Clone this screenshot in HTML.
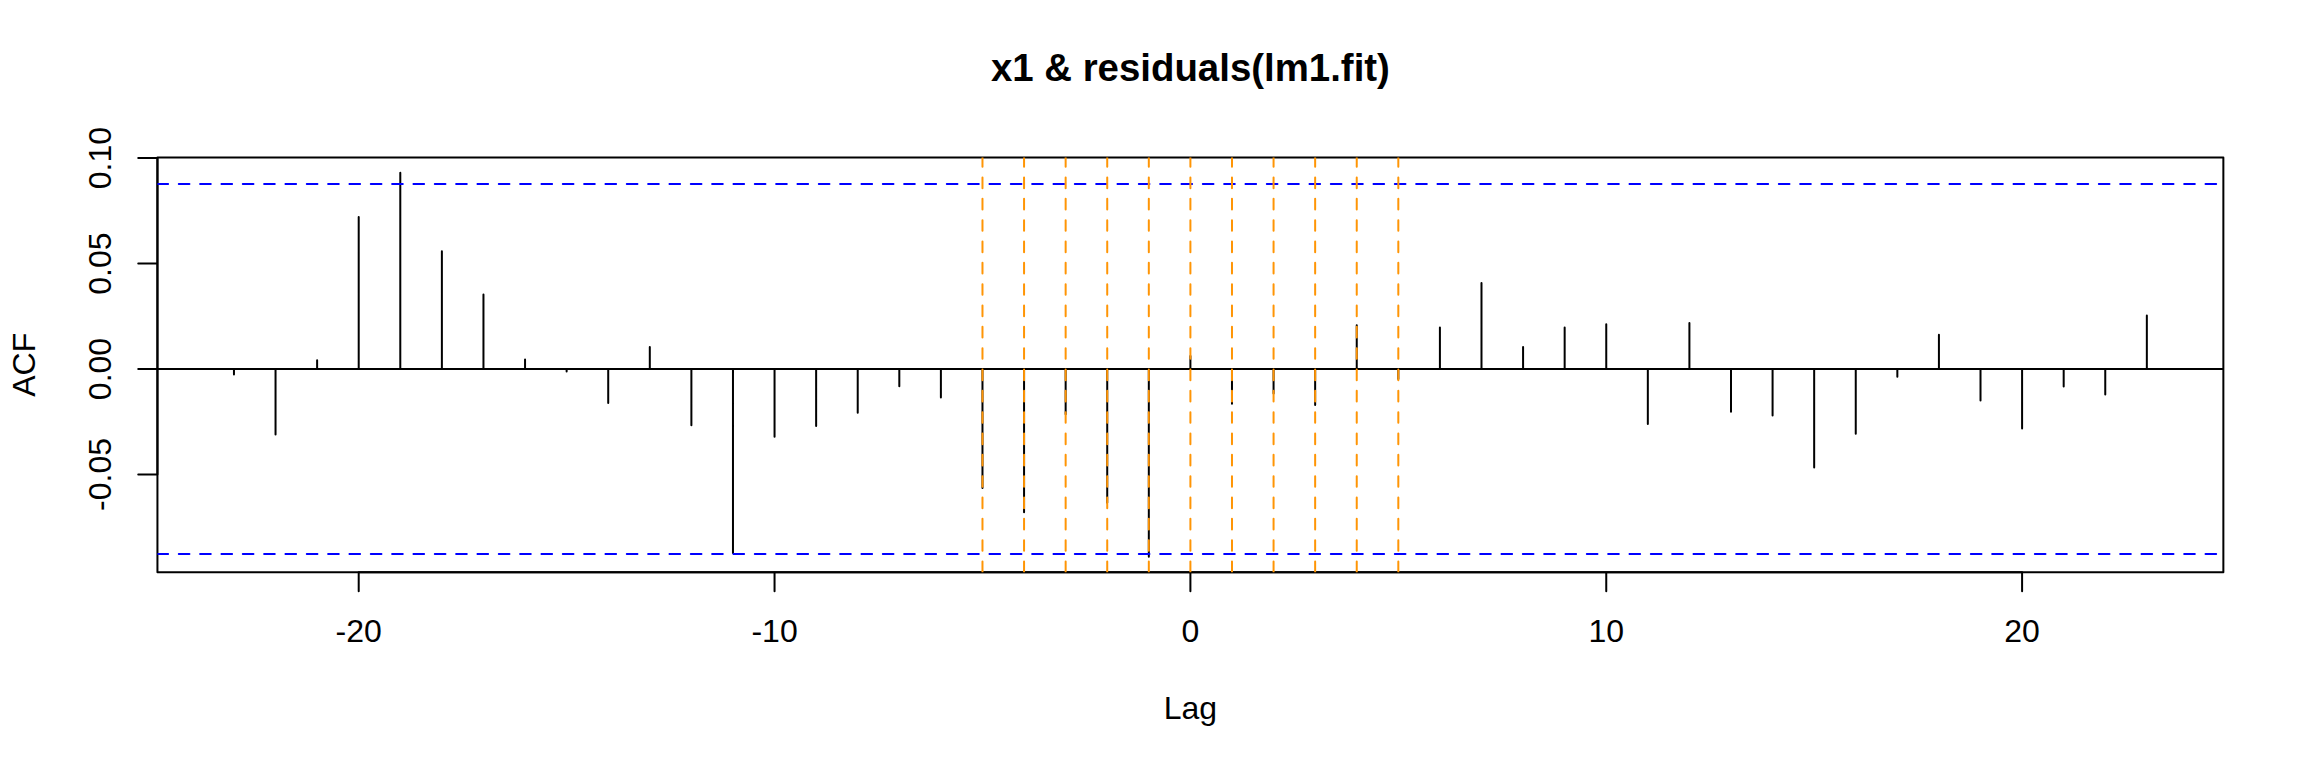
<!DOCTYPE html>
<html lang="en"><head><meta charset="utf-8"><title>x1 &amp; residuals(lm1.fit)</title>
<style>html,body{margin:0;padding:0;background:#fff}svg{display:block}text{font-family:"Liberation Sans",Arial,Helvetica,sans-serif;fill:#000}</style></head><body>
<svg width="2304" height="768" viewBox="0 0 2304 768">
<rect width="2304" height="768" fill="#fff"/>
<defs><clipPath id="pr"><rect x="157.44" y="157.44" width="2065.92" height="414.72"/></clipPath></defs>
<g stroke="#000" stroke-width="2" stroke-linecap="round" fill="none">
<path d="M233.96 369.00V374.50M275.54 369.00V434.50M317.12 369.00V360.25M358.71 369.00V217.00M400.29 369.00V172.80M441.88 369.00V251.25M483.46 369.00V294.50M525.05 369.00V359.50M566.63 369.00V371.50M608.22 369.00V403.00M649.80 369.00V347.00M691.39 369.00V425.25M732.97 369.00V553.00M774.55 369.00V436.75M816.14 369.00V426.00M857.72 369.00V412.75M899.31 369.00V386.25M940.89 369.00V397.50M982.48 369.00V488.00M1024.06 369.00V512.25M1065.65 369.00V414.25M1107.23 369.00V502.75M1148.82 369.00V556.80M1190.40 369.00V356.00M1231.98 369.00V403.75M1273.57 369.00V393.40M1315.15 369.00V404.90M1356.74 369.00V325.25M1398.32 369.00V379.00M1439.91 369.00V327.50M1481.49 369.00V283.00M1523.08 369.00V347.00M1564.66 369.00V327.50M1606.25 369.00V324.25M1647.83 369.00V424.00M1689.41 369.00V323.00M1731.00 369.00V411.75M1772.58 369.00V415.50M1814.17 369.00V467.50M1855.75 369.00V433.75M1897.34 369.00V376.75M1938.92 369.00V334.75M1980.51 369.00V400.50M2022.09 369.00V428.50M2063.68 369.00V386.50M2105.26 369.00V394.50M2146.84 369.00V315.50"/>
<path d="M358.71 572.16H2022.09M358.71 572.16v19.2M774.55 572.16v19.2M1190.40 572.16v19.2M1606.25 572.16v19.2M2022.09 572.16v19.2"/>
<path d="M157.44 474.46V158.08M157.44 474.46h-19.2M157.44 369.00h-19.2M157.44 263.54h-19.2M157.44 158.08h-19.2"/>
<path stroke-linejoin="round" d="M157.44 572.16H2223.36V157.44H157.44Z"/>
</g>
<g clip-path="url(#pr)" stroke-width="2" stroke-linecap="round" fill="none">
<path stroke="#000" d="M157.44 369.00H2223.36"/>
<path stroke="#00f" stroke-dasharray="10.667 10.667" d="M157.44 184.12H2223.36M157.44 553.88H2223.36"/>
<path stroke="#ff9505" stroke-dasharray="10.667 10.667" d="M982.48 572.16V157.44M1024.06 572.16V157.44M1065.65 572.16V157.44M1107.23 572.16V157.44M1148.82 572.16V157.44M1190.40 572.16V157.44M1231.98 572.16V157.44M1273.57 572.16V157.44M1315.15 572.16V157.44M1356.74 572.16V157.44M1398.32 572.16V157.44"/>
</g>
<g font-size="32" text-anchor="middle">
<text x="358.71" y="641.9">-20</text>
<text x="774.55" y="641.9">-10</text>
<text x="1190.40" y="641.9">0</text>
<text x="1606.25" y="641.9">10</text>
<text x="2022.09" y="641.9">20</text>
<text x="1190.40" y="718.7">Lag</text>
<text transform="translate(111.36 474.46) rotate(-90)">-0.05</text>
<text transform="translate(111.36 369.00) rotate(-90)">0.00</text>
<text transform="translate(111.36 263.54) rotate(-90)">0.05</text>
<text transform="translate(111.36 158.08) rotate(-90)">0.10</text>
<text transform="translate(34.56 364.80) rotate(-90)">ACF</text>
</g>
<text x="1190.40" y="81.2" font-size="38.4" font-weight="bold" text-anchor="middle">x1 &amp; residuals(lm1.fit)</text>
</svg></body></html>
